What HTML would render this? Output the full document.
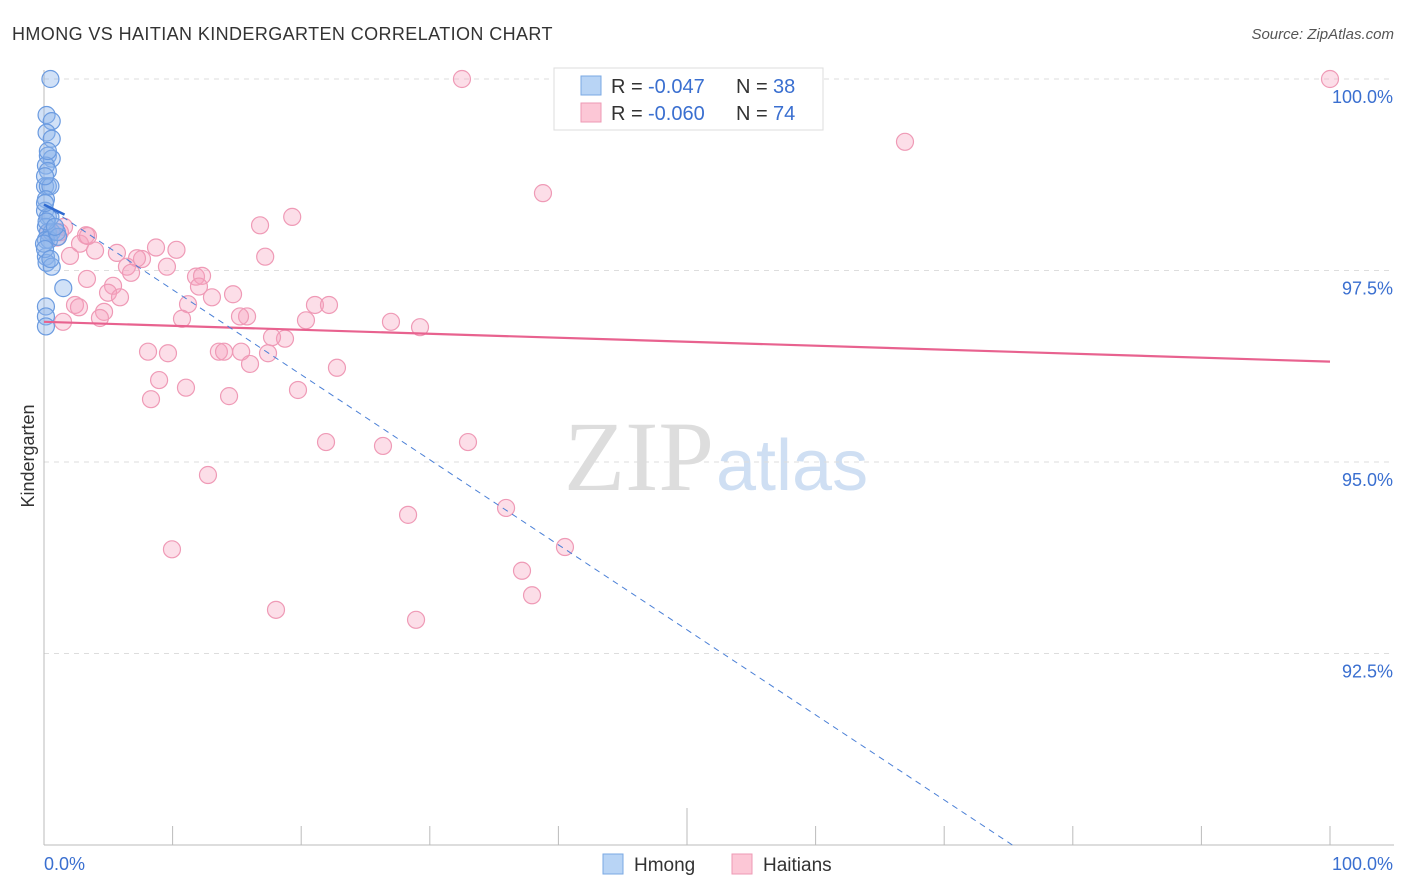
<!DOCTYPE html>
<html><head><meta charset="utf-8"><style>
body{margin:0;background:#fff;font-family:"Liberation Sans",sans-serif}
#wrap{position:relative;width:1406px;height:892px;overflow:hidden}
</style></head><body>
<div id="wrap">
<svg id="svg" width="1406" height="892" xmlns="http://www.w3.org/2000/svg">
<text x="12" y="40" font-size="18" fill="#333" letter-spacing="0.4">HMONG VS HAITIAN KINDERGARTEN CORRELATION CHART</text>
<text x="1394" y="39" font-size="15" fill="#555" font-style="italic" text-anchor="end">Source: ZipAtlas.com</text>
<text x="714" y="490" font-size="100" fill="#ddd" text-anchor="end" font-family="Liberation Serif,serif">ZIP</text>
<text x="716" y="490" font-size="72" fill="#cfdff3">atlas</text>
<text x="34" y="456" font-size="18" fill="#333" transform="rotate(-90 34 456)" text-anchor="middle">Kindergarten</text>
<g id="grid"></g><g id="marks"></g>
<g>
<rect x="554" y="68" width="269" height="62" fill="#fff" stroke="#ddd"/>
<rect x="581" y="76" width="20" height="19" fill="#b8d4f5" stroke="#7aa8e3"/>
<rect x="581" y="103" width="20" height="19" fill="#fcc7d6" stroke="#ee9ab4"/>
<text x="611" y="93" font-size="20" fill="#333">R =</text>
<text x="648" y="93" font-size="20" fill="#3a6fd0">-0.047</text>
<text x="736" y="93" font-size="20" fill="#333">N =</text>
<text x="773" y="93" font-size="20" fill="#3a6fd0">38</text>
<text x="611" y="120" font-size="20" fill="#333">R =</text>
<text x="648" y="120" font-size="20" fill="#3a6fd0">-0.060</text>
<text x="736" y="120" font-size="20" fill="#333">N =</text>
<text x="773" y="120" font-size="20" fill="#3a6fd0">74</text>
</g>
<g>
<rect x="603" y="854" width="20" height="20" fill="#b8d4f5" stroke="#7aa8e3"/>
<text x="634" y="871" font-size="19" fill="#333">Hmong</text>
<rect x="732" y="854" width="20" height="20" fill="#fcc7d6" stroke="#ee9ab4"/>
<text x="763" y="871" font-size="19" fill="#333">Haitians</text>
</g>
</svg></div>
<script>
const yTicks=[100,97.5,95,92.5];
const yTickLabels=["100.0%","97.5%","95.0%","92.5%"];
const xTickLabels=["0.0%","100.0%"];
const hmongX=[0.5,0.2,0.6,0.2,0.6,0.3,0.6,0.15,0.3,0.08,0.3,0.5,0.15,0.08,0.3,0.5,0.15,0.3,0.6,0.15,0.4,1.0,1.1,0.15,0.2,0.6,1.5,0.15,0.15,0.15,0.0,0.08,0.08,0.2,0.85,0.5,0.08,0.3];
const hmongY=[100,99.53,99.45,99.3,99.22,99.0,98.96,98.87,98.8,98.6,98.6,98.6,98.43,98.28,98.2,98.2,98.07,98.0,98.0,97.9,97.9,98.0,97.94,97.68,97.6,97.55,97.27,97.03,96.9,96.77,97.85,98.73,97.78,98.14,98.07,97.65,98.38,99.06];
const haitX=[32.5,100,66.95,38.8,19.3,16.8,1.56,3.27,1.0,2.8,5.67,8.71,10.3,3.97,2.02,17.2,7.62,7.23,9.56,6.45,11.82,12.29,3.34,6.77,5.37,12.05,4.98,5.91,14.70,13.06,2.41,11.2,2.72,21.07,22.16,4.67,4.35,10.73,15.79,15.24,20.37,26.98,29.24,1.48,18.74,17.73,17.42,8.09,9.64,13.6,14.0,15.33,16.02,22.78,8.95,11.04,19.75,14.39,8.32,21.93,26.36,32.97,12.75,35.93,28.31,40.51,9.95,37.17,37.95,18.04,28.93,3.42,1.24,0.31];
const haitY=[100,100,99.18,98.51,98.2,98.09,98.07,97.96,97.93,97.85,97.73,97.8,97.77,97.76,97.69,97.68,97.65,97.66,97.55,97.55,97.42,97.43,97.39,97.47,97.3,97.29,97.21,97.15,97.19,97.15,97.05,97.06,97.02,97.05,97.05,96.96,96.88,96.87,96.9,96.9,96.85,96.83,96.76,96.83,96.61,96.63,96.42,96.44,96.42,96.44,96.44,96.44,96.28,96.23,96.07,95.97,95.94,95.86,95.82,95.26,95.21,95.26,94.83,94.40,94.31,93.89,93.86,93.58,93.26,93.07,92.94,97.95,98.0,98.0];
const pinkTrend=[[0,96.83],[100,96.31]];
const blueTrend=[[0,98.36],[1.6,98.23]];
const blueDash=[[0,98.36],[75.3,90.0]];
const X=v=>44+v*12.86, Y=v=>79+(100-v)*76.6;
const NS="http://www.w3.org/2000/svg";
function mk(t,a,p){const e=document.createElementNS(NS,t);for(const k in a)e.setAttribute(k,a[k]);p.appendChild(e);return e;}
const grid=document.getElementById('grid'),marks=document.getElementById('marks');
yTicks.forEach((t,i)=>{
 const g=mk('line',{x1:44,x2:1394,y1:Y(t),y2:Y(t),stroke:'#ddd','stroke-dasharray':'5,5'},grid);
 
 
 const l=mk('text',{x:1393,y:Y(t)+24,'text-anchor':'end','font-size':18,fill:'#3a6fd0'},grid);l.textContent=yTickLabels[i];
 
 
});
mk('line',{x1:44,x2:44,y1:70,y2:845,stroke:'#bbb'},grid);
mk('line',{x1:44,x2:1394,y1:845,y2:845,stroke:'#bbb'},grid);
for(let i=0;i<=10;i++){const t=mk('line',{x1:X(i*10),x2:X(i*10),y1:i==5?808:826,y2:845,stroke:'#bbb'},grid);
 
 }
[[0,'start'],[100,'end']].forEach((p,i)=>{const l=mk('text',{x:X(p[0])+(i?63:0),y:870,'text-anchor':p[1],'font-size':18,fill:'#3a6fd0'},grid);l.textContent=xTickLabels[i];
 
 });
haitX.forEach((x,i)=>{const c=mk('circle',{cx:X(x),cy:Y(haitY[i]),r:8.5,fill:'rgba(246,160,190,0.35)',stroke:'#ef9ab6','stroke-width':1.2},marks);
 
 });
hmongX.forEach((x,i)=>{const c=mk('circle',{cx:X(x),cy:Y(hmongY[i]),r:8.5,fill:'rgba(140,180,235,0.4)',stroke:'#6b9be0','stroke-width':1.2},marks);
 
 });
const pl=mk('line',{x1:X(pinkTrend[0][0]),y1:Y(pinkTrend[0][1]),x2:X(pinkTrend[1][0]),y2:Y(pinkTrend[1][1]),stroke:'#e8628f','stroke-width':2.2},marks);


const bd=mk('line',{x1:X(blueDash[0][0]),y1:Y(blueDash[0][1]),x2:X(blueDash[1][0]),y2:Y(blueDash[1][1]),stroke:'#4a7fd6','stroke-width':1,'stroke-dasharray':'6,5'},marks);


const bl=mk('line',{x1:X(blueTrend[0][0]),y1:Y(blueTrend[0][1]),x2:X(blueTrend[1][0]),y2:Y(blueTrend[1][1]),stroke:'#2f6ad0','stroke-width':2.5},marks);


</script>
</body></html>
